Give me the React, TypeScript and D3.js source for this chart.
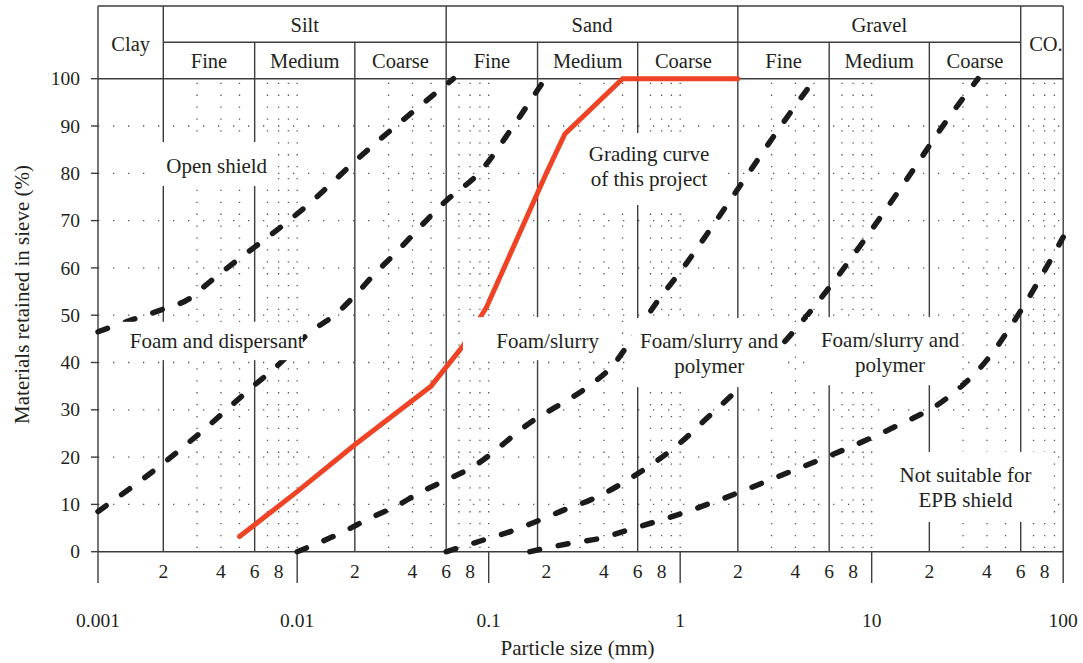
import React from "react";
import * as d3 from "d3";

const W = 1083;
const H = 663;

// Grading limits: [particle size (mm), materials retained in sieve (%)]
const openShieldLimit: [number, number][] = [
  [0.001, 46.5], [0.00145, 49.1], [0.002, 51.3], [0.00276, 53.6], [0.0033, 56.2],
  [0.00429, 59.9], [0.00493, 61.8], [0.00745, 67.3], [0.0112, 73.1], [0.0213, 83.5],
  [0.0413, 93.4], [0.0655, 100],
];
const dispersantLimit: [number, number][] = [
  [0.001, 8.5], [0.002, 18.7], [0.00337, 26.3], [0.00563, 34.3], [0.00846, 40.5],
  [0.0112, 45.8], [0.0161, 50.4], [0.0205, 54.6], [0.026, 59.2], [0.0294, 61.3],
  [0.0604, 74.3], [0.0901, 80.3], [0.1345, 90], [0.197, 100],
];
const foamSlurryLimit: [number, number][] = [
  [0.01, 0], [0.0174, 4.2], [0.024, 7.1], [0.0324, 9.5], [0.0447, 12.7], [0.0604, 15.2],
  [0.0799, 17.6], [0.178, 28.2], [0.2177, 30.3], [0.338, 35.2], [0.4476, 39.5],
  [0.547, 44.4], [0.769, 53.2], [1.019, 59.6], [1.49, 69.1], [2.18, 78.9], [3.25, 89.2],
  [5.06, 100],
];
const polymerLimit: [number, number][] = [
  [0.06, 0], [0.0995, 2.8], [0.137, 4.6], [0.189, 6.85], [0.261, 9.2], [0.338, 10.9],
  [0.6, 16.5], [1.0, 23], [1.376, 28.2], [1.86, 33.1], [3.9, 46.5], [4.76, 50.7],
  [16.2, 80.3], [23.7, 90.2], [35.9, 100],
];
const epbLimit: [number, number][] = [
  [0.164, 0], [0.277, 1.9], [0.381, 2.8], [0.536, 4.6], [0.739, 6.3], [1.02, 8.1],
  [1.43, 10.2], [3.75, 16.9], [7.11, 21.5], [13.2, 26.4], [24.2, 32.2], [39.9, 40.5],
  [59.5, 50.7], [100, 66.5],
];
const projectCurve: [number, number][] = [
  [0.005, 3.2], [0.01, 12.7], [0.02, 22.6], [0.05, 35], [0.0734, 43.5], [0.0977, 51.8],
  [0.2, 80], [0.25, 88.3], [0.5, 100], [2, 100],
];

const dashedLimits = [openShieldLimit, dispersantLimit, foamSlurryLimit, polymerLimit, epbLimit];

// Axes
const yTicks = [0, 10, 20, 30, 40, 50, 60, 70, 80, 90, 100];
const decades = [0.001, 0.01, 0.1, 1, 10, 100];
const decadeLabels = ["0.001", "0.01", "0.1", "1", "10", "100"];
const minorLabels = [2, 4, 6, 8];
const dottedMultiples = [3, 4, 5, 7, 8, 9, 10];

// Soil classification bands
const mainClasses = [
  { name: "Silt", from: 0.002, to: 0.06 },
  { name: "Sand", from: 0.06, to: 2 },
  { name: "Gravel", from: 2, to: 60 },
];
const subClasses = ["Fine", "Medium", "Coarse"];
const sideClasses = [
  { name: "Clay", from: 0.001, to: 0.002 },
  { name: "CO.", from: 60, to: 100 },
];

// Zone labels: text lines, anchor (mm, % at first baseline), white backing box [x0, x1, y0, y1]
const zoneLabels = [
  { lines: ["Open shield"], at: [0.0038, 80], box: [0.00174, 0.00766, 77.3, 86.6] },
  { lines: ["Foam and dispersant"], at: [0.0038, 43.1], box: [0.00116, 0.0107, 40.5, 48.6] },
  { lines: ["Grading curve", "of this project"], at: [0.688, 82.5], box: [0.282, 1.715, 73.3, 88.5] },
  { lines: ["Foam/slurry"], at: [0.203, 43], box: [0.0734, 0.451, 40.5, 49.6] },
  { lines: ["Foam/slurry and", "polymer"], at: [1.418, 43], box: [0.56, 3.4, 34.8, 49.4] },
  { lines: ["Foam/slurry and", "polymer"], at: [12.47, 43.3], box: [4.65, 28.9, 35.2, 49.6] },
  { lines: ["Not suitable for", "EPB shield"], at: [30.9, 14.8], box: [10.67, 87.4, 6.3, 21.1] },
];

const FONT = "'Liberation Serif', 'Times New Roman', serif";
const INK = "#231f20";
const RULE = "#3d3d3d";
const DOT = "#555";

export default function App() {
  const x = d3.scaleLog().domain([0.001, 0.002, 100]).range([98, 163.3, 1063.2]);
  const y = d3.scaleLinear().domain([0, 100]).range([551.7, 78.7]);

  const headTop = 6;
  const headMid = 42.3;
  const plotTop = y(100);
  const plotBottom = y(0);
  const left = x(0.001);
  const right = x(100);
  const tickBottom = 583;

  const line = d3
    .line<[number, number]>()
    .x((d) => x(d[0]))
    .y((d) => y(d[1]));
  const smooth = d3
    .line<[number, number]>()
    .x((d) => x(d[0]))
    .y((d) => y(d[1]))
    .curve(d3.curveMonotoneX);

  const dottedX: number[] = [];
  [0.001, 0.01, 0.1, 1, 10].forEach((b) =>
    dottedMultiples.forEach((m) => {
      const v = +(b * m).toPrecision(6);
      if (v < 100 && !dottedX.includes(v)) dottedX.push(v);
    })
  );

  const solidX: number[] = [];
  mainClasses.forEach((c) => {
    solidX.push(c.from, c.from * 3, c.from * 10);
  });
  solidX.push(60);

  return (
    <svg
      width={W}
      height={H}
      style={{ position: "absolute", left: 0, top: 0, background: "#fff" }}
      fontFamily={FONT}
    >
      <rect width={W} height={H} fill="#fff" />

      {/* dotted grid */}
      <g stroke={DOT} strokeWidth={1.3} fill="none">
        {yTicks
          .filter((t) => t > 0 && t < 100)
          .map((t) => (
            <line key={"h" + t} x1={left} x2={right} y1={y(t)} y2={y(t)} strokeDasharray="1.3 13.7" />
          ))}
        {dottedX.map((v) => (
          <line key={"v" + v} x1={x(v)} x2={x(v)} y1={plotTop + 4} y2={plotBottom} strokeDasharray="1.3 10.6" />
        ))}
      </g>

      {/* classification rules */}
      <g stroke={RULE} strokeWidth={1.4} fill="none">
        <line x1={left} x2={right} y1={headTop} y2={headTop} />
        <line x1={x(0.002)} x2={x(60)} y1={headMid} y2={headMid} />
        <line x1={left} x2={right} y1={plotTop} y2={plotTop} />
        <line x1={left} x2={right} y1={plotBottom} y2={plotBottom} />
        <line x1={left} x2={left} y1={headTop} y2={tickBottom} />
        <line x1={right} x2={right} y1={headTop} y2={tickBottom} />
        {mainClasses.map((c) => (
          <line key={c.name} x1={x(c.from)} x2={x(c.from)} y1={headTop} y2={plotBottom} />
        ))}
        <line x1={x(60)} x2={x(60)} y1={headTop} y2={plotBottom} />
        {mainClasses.map((c) =>
          [c.from * 3, c.from * 10].map((v) => (
            <line key={c.name + v} x1={x(v)} x2={x(v)} y1={headMid} y2={plotBottom} />
          ))
        )}
        {decades.slice(1, -1).map((d) => (
          <line key={"dt" + d} x1={x(d)} x2={x(d)} y1={plotBottom} y2={tickBottom} />
        ))}
        {yTicks.map((t) => (
          <line key={"yt" + t} x1={left - 7} x2={left} y1={y(t)} y2={y(t)} />
        ))}
      </g>

      {/* grading limits */}
      <g fill="none" stroke="#1b1b1b" strokeWidth={5.5} strokeLinecap="round" strokeDasharray="10 19">
        {dashedLimits.map((s, i) => (
          <path key={i} d={smooth(s) ?? ""} />
        ))}
      </g>
      <path d={line(projectCurve) ?? ""} fill="none" stroke="#ee4324" strokeWidth={5} strokeLinejoin="miter" strokeLinecap="round" />

      {/* zone labels */}
      {zoneLabels.map((z, i) => (
        <g key={i}>
          <rect
            x={x(z.box[0])}
            y={y(z.box[3])}
            width={x(z.box[1]) - x(z.box[0])}
            height={y(z.box[2]) - y(z.box[3])}
            fill="#fff"
          />
          <text x={x(z.at[0])} y={y(z.at[1])} textAnchor="middle" fontSize={21} fill={INK}>
            {z.lines.map((l, j) => (
              <tspan key={j} x={x(z.at[0])} dy={j === 0 ? 0 : 25}>
                {l}
              </tspan>
            ))}
          </text>
        </g>
      ))}

      {/* header texts */}
      <g fontSize={20.5} fill={INK} textAnchor="middle">
        {mainClasses.map((c) => (
          <g key={c.name}>
            <text x={(x(c.from) + x(c.to)) / 2} y={32.3}>
              {c.name}
            </text>
            {subClasses.map((s, k) => {
              const a = c.from * [1, 3, 10][k];
              const b = c.from * [3, 10, 30][k];
              return (
                <text key={s} x={(x(a) + x(b)) / 2} y={67.7}>
                  {s}
                </text>
              );
            })}
          </g>
        ))}
        {sideClasses.map((c) => (
          <text key={c.name} x={(x(c.from) + x(c.to)) / 2 + (c.name === "CO." ? 4 : 0)} y={50.5}>
            {c.name}
          </text>
        ))}
      </g>

      {/* y axis labels */}
      <g fontSize={19.5} fill={INK} textAnchor="end">
        {yTicks.map((t) => (
          <text key={t} x={80} y={y(t) + 6.6}>
            {t}
          </text>
        ))}
      </g>
      <text
        transform="translate(28.5,294.5) rotate(-90)"
        textAnchor="middle"
        fontSize={21}
        fill={INK}
      >
        Materials retained in sieve (%)
      </text>

      {/* x axis labels */}
      <g fontSize={19.5} fill={INK} textAnchor="middle">
        {decades.slice(0, -1).map((d) =>
          minorLabels.map((m) => (
            <text key={d + "-" + m} x={x(d * m)} y={578.3}>
              {m}
            </text>
          ))
        )}
        {decades.map((d, i) => (
          <text key={"d" + d} x={x(d)} y={626.7}>
            {decadeLabels[i]}
          </text>
        ))}
      </g>
      <text x={577.5} y={655} textAnchor="middle" fontSize={21} fill={INK}>
        Particle size (mm)
      </text>
    </svg>
  );
}
